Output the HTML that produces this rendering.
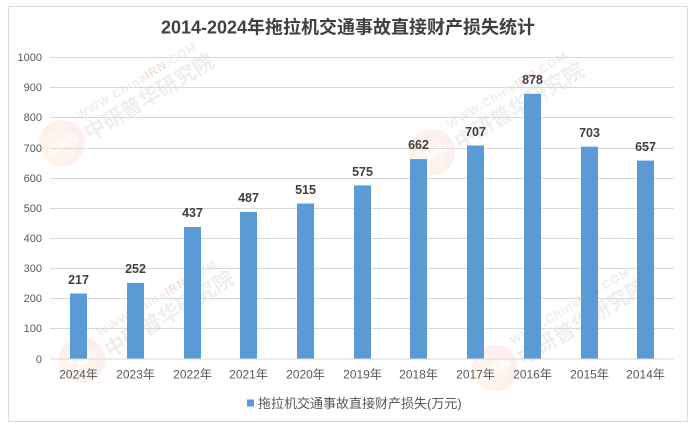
<!DOCTYPE html>
<html><head><meta charset="utf-8"><style>
html,body{margin:0;padding:0;background:#fff;}
svg{display:block;}
text{font-family:"Liberation Sans","Noto Sans CJK SC",sans-serif;}
</style></head><body>
<svg width="696" height="431" viewBox="0 0 696 431" xmlns="http://www.w3.org/2000/svg">
<rect x="0" y="0" width="696" height="431" fill="#fff"/>
<rect x="8.5" y="6.5" width="679" height="415" fill="#fff" stroke="#D9D9D9" stroke-width="1"/>

<!-- watermarks -->
<defs>
<g id="wm">
  <g opacity="0.55">
  <circle cx="0" cy="0" r="23" fill="#fbe3df"/>
  <circle cx="-4" cy="4" r="18" fill="#fdf2d8" opacity="0.6"/>
  <text x="-16" y="6" font-size="13" font-weight="bold" font-style="italic" fill="#fff" transform="rotate(-30 0 0)">CIRN</text>
  </g>
  <g transform="translate(18,-23) rotate(-31)">
    <text x="0" y="0" font-size="12" font-weight="bold" fill="#eeeeee" letter-spacing="1">WWW.China<tspan fill="#f8dcd8">IRN</tspan>.COM</text>
  </g>
  <g transform="translate(28,-2) rotate(-31)">
    <text x="0" y="0" font-size="21" font-weight="bold" fill="#eeeeee">中研普华研究院</text>
  </g>
</g>
</defs>
<use href="#wm" x="62" y="143"/>
<use href="#wm" x="432" y="152"/>
<use href="#wm" x="82" y="360"/>
<use href="#wm" x="495" y="368"/>

<!-- title -->
<text x="348" y="33.5" text-anchor="middle" font-size="18" font-weight="bold" fill="#404040">2014-2024年拖拉机交通事故直接财产损失统计</text>

<!-- gridlines -->
<g stroke="#D9D9D9" stroke-width="1">
<line x1="50" x2="674" y1="57.5" y2="57.5"/>
<line x1="50" x2="674" y1="87.5" y2="87.5"/>
<line x1="50" x2="674" y1="117.5" y2="117.5"/>
<line x1="50" x2="674" y1="148.5" y2="148.5"/>
<line x1="50" x2="674" y1="178.5" y2="178.5"/>
<line x1="50" x2="674" y1="208.5" y2="208.5"/>
<line x1="50" x2="674" y1="238.5" y2="238.5"/>
<line x1="50" x2="674" y1="268.5" y2="268.5"/>
<line x1="50" x2="674" y1="298.5" y2="298.5"/>
<line x1="50" x2="674" y1="328.5" y2="328.5"/>
</g>

<!-- y labels -->
<g font-size="11" fill="#595959" text-anchor="end">
<text x="42" y="61">1000</text>
<text x="42" y="91">900</text>
<text x="42" y="121">800</text>
<text x="42" y="152">700</text>
<text x="42" y="182">600</text>
<text x="42" y="212">500</text>
<text x="42" y="242">400</text>
<text x="42" y="272">300</text>
<text x="42" y="302">200</text>
<text x="42" y="332">100</text>
<text x="42" y="363">0</text>
</g>

<!-- bars -->
<g fill="#5B9BD5">
<rect x="70" y="293.5" width="17" height="65.5"/>
<rect x="127" y="282.9" width="17" height="76.1"/>
<rect x="184" y="227.0" width="17" height="132.0"/>
<rect x="240" y="211.9" width="17" height="147.1"/>
<rect x="297" y="203.5" width="17" height="155.5"/>
<rect x="354" y="185.4" width="17" height="173.6"/>
<rect x="410" y="159.1" width="17" height="199.9"/>
<rect x="467" y="145.5" width="17" height="213.5"/>
<rect x="524" y="93.8" width="17" height="265.2"/>
<rect x="581" y="146.7" width="17" height="212.3"/>
<rect x="637" y="160.6" width="17" height="198.4"/>
</g>

<!-- axis -->
<line x1="50" x2="674" y1="359" y2="359" stroke="#D9D9D9" stroke-width="1"/>

<!-- value labels -->
<g font-size="12.5" font-weight="bold" fill="#404040" text-anchor="middle">
<text x="78.5" y="284">217</text>
<text x="135.5" y="273">252</text>
<text x="192.5" y="217">437</text>
<text x="248.5" y="202">487</text>
<text x="305.5" y="194">515</text>
<text x="362.5" y="176">575</text>
<text x="418.5" y="149">662</text>
<text x="475.5" y="136">707</text>
<text x="532.5" y="84">878</text>
<text x="589.5" y="137">703</text>
<text x="645.5" y="151">657</text>
</g>

<!-- x labels -->
<g font-size="12" fill="#595959" text-anchor="middle">
<text x="78.5" y="378.5">2024年</text>
<text x="135.5" y="378.5">2023年</text>
<text x="192.5" y="378.5">2022年</text>
<text x="248.5" y="378.5">2021年</text>
<text x="305.5" y="378.5">2020年</text>
<text x="362.5" y="378.5">2019年</text>
<text x="418.5" y="378.5">2018年</text>
<text x="475.5" y="378.5">2017年</text>
<text x="532.5" y="378.5">2016年</text>
<text x="589.5" y="378.5">2015年</text>
<text x="645.5" y="378.5">2014年</text>
</g>

<!-- legend -->
<rect x="247" y="399.5" width="7" height="7" fill="#5B9BD5"/>
<text x="258" y="408" font-size="13" fill="#595959">拖拉机交通事故直接财产损失(万元)</text>
</svg>
</body></html>
